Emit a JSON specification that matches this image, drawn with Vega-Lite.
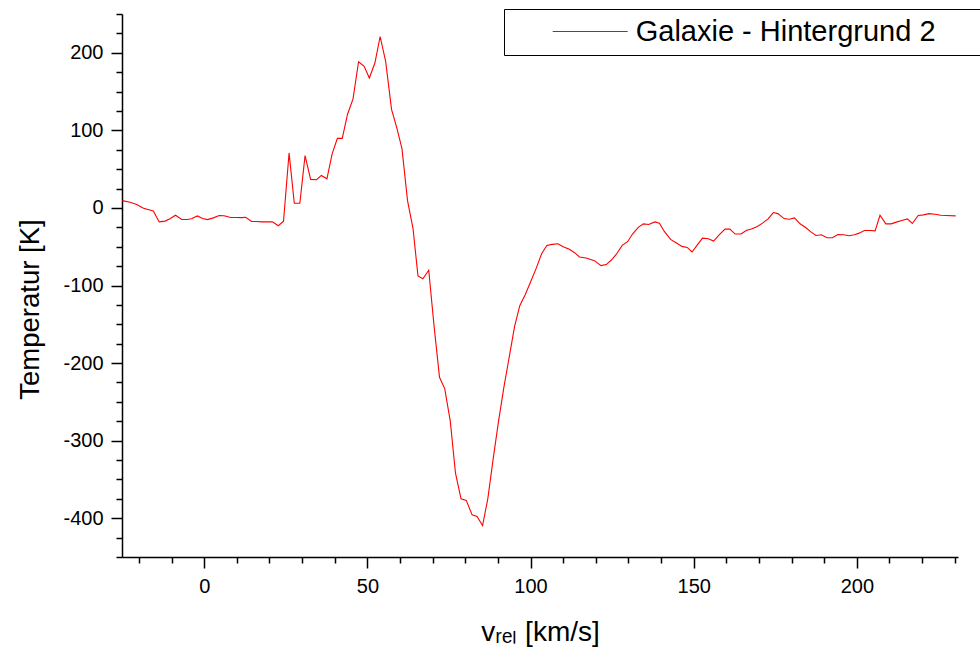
{
  "$schema": "https://vega.github.io/schema/vega-lite/v6.json",
  "width": 836,
  "height": 543,
  "autosize": {"type": "none"},
  "padding": {"left": 122, "top": 14, "right": 22, "bottom": 97},
  "background": "white",
  "config": {
    "view": {"stroke": null},
    "font": "Liberation Sans",
    "axis": {
      "domainColor": "black",
      "domainWidth": 1.5,
      "tickColor": "black",
      "tickWidth": 1.5,
      "labelColor": "black",
      "titleColor": "black",
      "labelFont": "Liberation Sans",
      "titleFont": "Liberation Sans",
      "labelFontSize": 20,
      "titleFontSize": 28,
      "titleFontWeight": "normal",
      "grid": false
    }
  },
  "data": {
    "values": [
      {"v": -25.1, "T": 9.4}, {"v": -22.7, "T": 7.3}, {"v": -20.7, "T": 4.3}, {"v": -18.6, "T": -0.4},
      {"v": -15.6, "T": -3.8}, {"v": -13.8, "T": -18}, {"v": -12, "T": -17}, {"v": -10.5, "T": -14},
      {"v": -8.8, "T": -9.4}, {"v": -6.9, "T": -15}, {"v": -5.3, "T": -15}, {"v": -3.9, "T": -14},
      {"v": -2.1, "T": -10.3}, {"v": -0.5, "T": -13.7}, {"v": 1, "T": -15}, {"v": 2.8, "T": -12.8},
      {"v": 4.6, "T": -9.8}, {"v": 6.1, "T": -10}, {"v": 8.1, "T": -12.4}, {"v": 9.9, "T": -12.4},
      {"v": 11.5, "T": -12.5}, {"v": 12.7, "T": -12}, {"v": 14.5, "T": -17.5}, {"v": 16, "T": -17.5},
      {"v": 17.6, "T": -18}, {"v": 19.1, "T": -18}, {"v": 20.9, "T": -18}, {"v": 22.7, "T": -23},
      {"v": 24.3, "T": -17}, {"v": 26.0, "T": 70.9}, {"v": 27.6, "T": 6}, {"v": 29.3, "T": 6},
      {"v": 30.9, "T": 67.5}, {"v": 32.6, "T": 36.8}, {"v": 34.4, "T": 36.4}, {"v": 35.9, "T": 41.9},
      {"v": 37.6, "T": 37.6}, {"v": 39.2, "T": 69.7}, {"v": 40.8, "T": 89.7}, {"v": 42.3, "T": 89.7},
      {"v": 43.9, "T": 120.5}, {"v": 45.6, "T": 140.6}, {"v": 47.3, "T": 188.5}, {"v": 49, "T": 182.5},
      {"v": 50.6, "T": 167.5}, {"v": 52.3, "T": 186.8}, {"v": 53.9, "T": 221}, {"v": 55.6, "T": 188.9},
      {"v": 57.4, "T": 127}, {"v": 59, "T": 103.4}, {"v": 60.6, "T": 76.5}, {"v": 62.3, "T": 9.4},
      {"v": 64, "T": -27}, {"v": 65.5, "T": -87.6}, {"v": 67, "T": -91.4}, {"v": 68.8, "T": -80.3},
      {"v": 70.4, "T": -150.8}, {"v": 72.1, "T": -218.4}, {"v": 73.7, "T": -232.9}, {"v": 75.4, "T": -274.8},
      {"v": 77, "T": -342}, {"v": 78.7, "T": -375}, {"v": 80.3, "T": -377}, {"v": 82.1, "T": -395.7},
      {"v": 83.6, "T": -397.8}, {"v": 85.3, "T": -409.4}, {"v": 86.9, "T": -375}, {"v": 88.6, "T": -321.8},
      {"v": 90.2, "T": -274.8}, {"v": 91.8, "T": -232}, {"v": 93.6, "T": -189}, {"v": 95.1, "T": -153},
      {"v": 96.7, "T": -126}, {"v": 98.4, "T": -111.5}, {"v": 100.1, "T": -94.5}, {"v": 101.7, "T": -78.2},
      {"v": 103.4, "T": -59}, {"v": 105, "T": -48.3}, {"v": 106.6, "T": -47}, {"v": 108.4, "T": -46.2},
      {"v": 110, "T": -50}, {"v": 111.9, "T": -53.4}, {"v": 113.5, "T": -57.7}, {"v": 115, "T": -63.2},
      {"v": 117, "T": -64.5}, {"v": 119.6, "T": -68}, {"v": 121.6, "T": -74.4}, {"v": 123.2, "T": -73},
      {"v": 124.7, "T": -67.5}, {"v": 126.2, "T": -60.3}, {"v": 128.1, "T": -48.3}, {"v": 129.8, "T": -43.2},
      {"v": 131.3, "T": -33.3}, {"v": 133.1, "T": -24.8}, {"v": 134.6, "T": -20.5}, {"v": 136.2, "T": -21.4},
      {"v": 138.1, "T": -18}, {"v": 139.5, "T": -19.7}, {"v": 141, "T": -30.3}, {"v": 142.9, "T": -40.6},
      {"v": 144.6, "T": -44.9}, {"v": 146.4, "T": -49.6}, {"v": 148, "T": -50.9}, {"v": 149.5, "T": -56.8},
      {"v": 151, "T": -48.3}, {"v": 152.7, "T": -38.9}, {"v": 154.5, "T": -39.7}, {"v": 156.1, "T": -42.7},
      {"v": 157.8, "T": -34.6}, {"v": 159.6, "T": -27.3}, {"v": 161.1, "T": -27.3}, {"v": 162.7, "T": -33.7},
      {"v": 164.5, "T": -33.7}, {"v": 166.1, "T": -29.1}, {"v": 167.9, "T": -26.9}, {"v": 169.5, "T": -24},
      {"v": 171.1, "T": -19.6}, {"v": 172.8, "T": -14.1}, {"v": 174.4, "T": -6}, {"v": 175.8, "T": -7.3},
      {"v": 177.7, "T": -13.7}, {"v": 179.3, "T": -14.5}, {"v": 180.9, "T": -12.8}, {"v": 182.6, "T": -20.5},
      {"v": 184.4, "T": -25.6}, {"v": 186, "T": -31.2}, {"v": 187.5, "T": -35.5}, {"v": 189.1, "T": -34.6},
      {"v": 190.9, "T": -38.5}, {"v": 192.5, "T": -38.5}, {"v": 194.2, "T": -34.2}, {"v": 195.9, "T": -34.6},
      {"v": 197.6, "T": -35.9}, {"v": 199.3, "T": -34.6}, {"v": 200.7, "T": -32.5}, {"v": 202.3, "T": -29.1},
      {"v": 204, "T": -29.1}, {"v": 205.6, "T": -29.5}, {"v": 207.1, "T": -9.4}, {"v": 208.9, "T": -20.5},
      {"v": 210.5, "T": -20.5}, {"v": 212.1, "T": -18.3}, {"v": 213.8, "T": -16.2}, {"v": 215.5, "T": -14.1},
      {"v": 217, "T": -20.1}, {"v": 218.8, "T": -9.8}, {"v": 220.4, "T": -9}, {"v": 222.1, "T": -7.3},
      {"v": 224, "T": -8.1}, {"v": 225.7, "T": -9.4}, {"v": 227.3, "T": -9.8}, {"v": 230.3, "T": -10.3}
    ]
  },
  "mark": {"type": "line", "strokeWidth": 1.1, "interpolate": "linear"},
  "encoding": {
    "x": {
      "field": "v",
      "type": "quantitative",
      "scale": {"domain": [-25.2, 231], "nice": false, "zero": false},
      "axis": {
        "title": "vᵣₑₗ [km/s]",
        "values": [-20, -10, 0, 10, 20, 30, 40, 50, 60, 70, 80, 90, 100, 110, 120, 130, 140, 150, 160, 170, 180, 190, 200, 210, 220, 230],
        "tickSize": {"condition": {"test": "datum.value % 50 === 0", "value": 11}, "value": 6},
        "labelExpr": "datum.value % 50 === 0 ? replace(datum.label, '−', '-') : ''",
        "labelPadding": 8,
        "labelFlush": false,
        "labelOverlap": false,
        "titleY": 83,
        "titleBaseline": "alphabetic"
      }
    },
    "y": {
      "field": "T",
      "type": "quantitative",
      "scale": {"domain": [-450, 250], "nice": false, "zero": false},
      "axis": {
        "title": "Temperatur [K]",
        "values": [-450, -425, -400, -375, -350, -325, -300, -275, -250, -225, -200, -175, -150, -125, -100, -75, -50, -25, 0, 25, 50, 75, 100, 125, 150, 175, 200, 225, 250],
        "tickSize": {"condition": {"test": "datum.value % 100 === 0", "value": 11}, "value": 6},
        "labelExpr": "datum.value % 100 === 0 ? replace(datum.label, '−', '-') : ''",
        "labelPadding": 8,
        "labelFlush": false,
        "labelOverlap": false,
        "titleX": -92,
        "titleY": 295,
        "titleFontSize": 27.5,
        "titleBaseline": "middle"
      }
    },
    "color": {
      "datum": "Galaxie - Hintergrund 2",
      "type": "nominal",
      "scale": {"range": ["#ff0000"]},
      "legend": {
        "orient": "none",
        "legendX": 382,
        "legendY": -5,
        "title": " ",
        "titleOrient": "right",
        "titlePadding": 37,
        "titleFontSize": 29,
        "strokeColor": "black",
        "fillColor": "white",
        "padding": 8,
        "symbolType": "M-5,0H5",
        "symbolSize": 225,
        "symbolStrokeWidth": 1,
        "symbolOffset": 63.7,
        "labelOffset": 31,
        "labelFontSize": 29,
        "labelFont": "Liberation Sans",
        "labelColor": "black",
        "labelLimit": 600
      }
    }
  }
}
